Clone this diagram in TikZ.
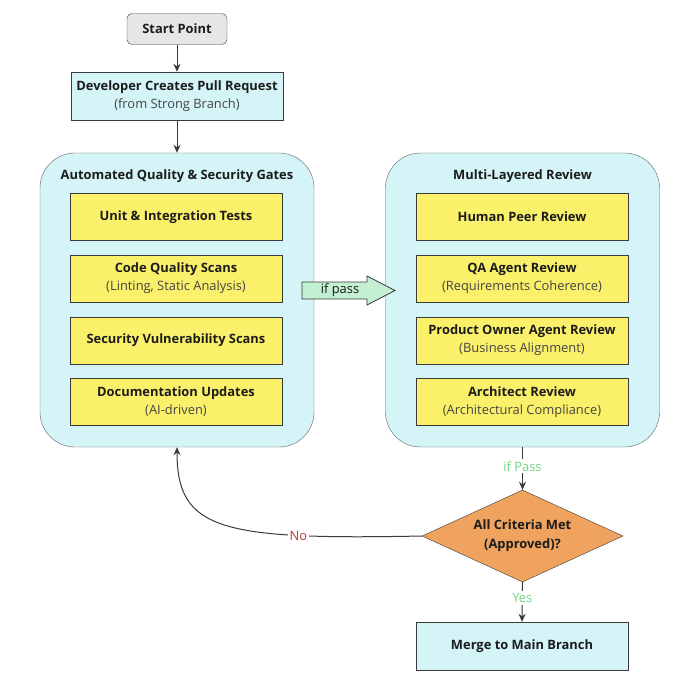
\documentclass[tikz,border=0pt]{standalone}
\usepackage{fontspec}
\setmainfont{Open Sans}
\usepackage{xcolor}
\usetikzlibrary{arrows.meta, shapes.geometric}

\definecolor{boxcyan}{HTML}{D4F4F7}
\definecolor{boxyellow}{HTML}{FAF06A}
\definecolor{boxgray}{HTML}{E6E6E6}
\definecolor{boxorange}{HTML}{F0A35E}
\definecolor{passgreen}{HTML}{C3EFD2}
\definecolor{lblgreen}{HTML}{72D585}
\definecolor{lblred}{HTML}{C0392B}
\definecolor{edge}{HTML}{3A3A3A}
\definecolor{subgray}{HTML}{454545}
\definecolor{ink}{HTML}{1C1C1C}

\begin{document}
\begin{tikzpicture}[x=1pt, y=-1pt,
    every node/.style={text=ink, font=\fontsize{12.9}{18}\selectfont},
    startbox/.style={draw=edge, fill=boxgray, rounded corners=5pt, minimum width=100pt, minimum height=31pt, inner sep=0pt, font=\fontsize{12.9}{18}\selectfont\bfseries},
    flowbox/.style={draw=edge, fill=boxcyan, minimum width=212pt, minimum height=48pt, inner sep=0pt, align=center, font=\fontsize{12.9}{18}\selectfont\bfseries},
    stepbox/.style={draw=edge, fill=boxyellow, minimum width=212pt, minimum height=47pt, inner sep=0pt, align=center, font=\fontsize{12.9}{18}\selectfont\bfseries},
    groupbox/.style={draw=edge!80, fill=boxcyan, rounded corners=35pt, minimum width=274pt, minimum height=294pt, inner sep=0pt},
    grouptitle/.style={font=\fontsize{12.9}{18}\selectfont\bfseries},
    decision/.style={diamond, draw=edge, fill=boxorange, minimum width=201pt, minimum height=92pt, aspect=2.2, inner sep=0pt, align=center, font=\fontsize{12.9}{19}\selectfont\bfseries},
    arr/.style={-{Stealth[length=8pt, width=7pt]}, draw=edge, line width=1pt},
    oklabel/.style={fill=white, text=lblgreen, inner sep=2pt},
    nolabel/.style={fill=white, text=lblred, inner sep=2pt}]
  \useasboundingbox (0,0) rectangle (700,686);

  % top of the flow
  \node[startbox] (start) at (177,29) {Start Point};
  \node[flowbox] (pr) at (177,96) {Developer Creates Pull Request\\\mdseries\color{subgray}(from Strong Branch)};

  % the two stages
  \node[groupbox] (gates) at (177,300) {};
  \node[grouptitle] (gatestitle) at (177,176) {Automated Quality \& Security Gates};
  \node[groupbox] (review) at (522.5,300) {};
  \node[grouptitle] (reviewtitle) at (522.5,176) {Multi-Layered Review};

  \node[stepbox] (unit) at (176,217) {Unit \& Integration Tests};
  \node[stepbox] (quality) at (176,278.5) {Code Quality Scans\\\mdseries\color{subgray}(Linting, Static Analysis)};
  \node[stepbox] (security) at (176,340.5) {Security Vulnerability Scans};
  \node[stepbox] (docs) at (176,402) {Documentation Updates\\\mdseries\color{subgray}(AI-driven)};

  \node[stepbox] (peer) at (522,217) {Human Peer Review};
  \node[stepbox] (qa) at (522,278.5) {QA Agent Review\\\mdseries\color{subgray}(Requirements Coherence)};
  \node[stepbox] (owner) at (522,340.5) {Product Owner Agent Review\\\mdseries\color{subgray}(Business Alignment)};
  \node[stepbox] (arch) at (522,402) {Architect Review\\\mdseries\color{subgray}(Architectural Compliance)};

  % block arrow between the stages
  \draw[draw=edge, fill=passgreen, line width=0.8pt] (302,282) -- (367,282) -- (367,276) -- (395,290.5)
      -- (367,305) -- (367,299) -- (302,299) -- cycle;
  \node (passtext) at (340,290.5) {if pass};

  % decision and end
  \node[decision] (check) at (522.5,536) {All Criteria Met\\(Approved)?};
  \node[flowbox] (merge) at (522,646) {Merge to Main Branch};

  \draw[arr] (start) -- (pr);
  \draw[arr] (pr) -- (gates);
  \draw[arr] (review.south) -- node[oklabel, pos=0.45] {if Pass} (check.north);
  \draw[arr] (check.south) -- node[oklabel, pos=0.4] {Yes} (merge.north);
  \draw[arr] (check.west) .. controls (220,540) and (177,530) .. node[nolabel, pos=0.25] {No} (gates.south);
\end{tikzpicture}
\end{document}
